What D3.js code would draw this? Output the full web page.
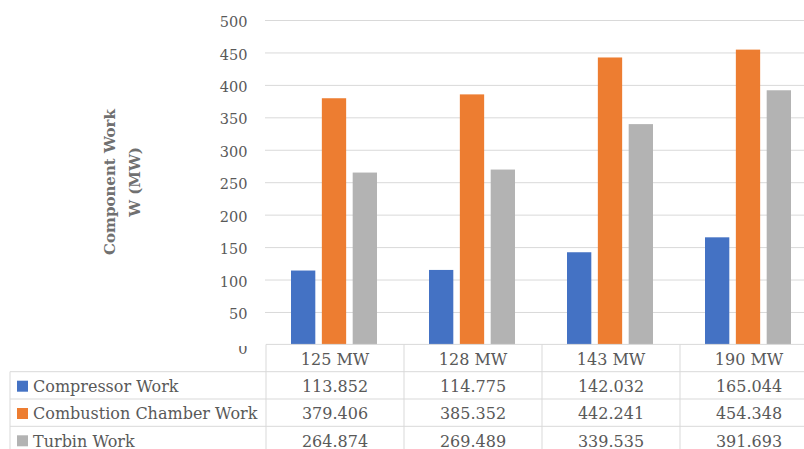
<!DOCTYPE html>
<html>
<head>
<meta charset="utf-8">
<script src="https://cdn.jsdelivr.net/npm/d3@7"></script>
<style>
  html, body { margin: 0; padding: 0; background: #ffffff; }
  svg { display: block; }
</style>
</head>
<body>
<svg id="chart" width="804" height="449"></svg>
<script>
// Plant capacities (categories) and component work per series, in MW
const categories = ["125 MW", "128 MW", "143 MW", "190 MW"];
const seriesNames = ["Compressor Work", "Combustion Chamber Work", "Turbin Work"];
const compressorWork = [113.852, 114.775, 142.032, 165.044];
const combustionChamberWork = [379.406, 385.352, 442.241, 454.348];
const turbinWork = [264.874, 269.489, 339.535, 391.693];
const yTickValues = [0, 50, 100, 150, 200, 250, 300, 350, 400, 450, 500];
const valueLabels = [
  ["113.852", "114.775", "142.032", "165.044"],
  ["379.406", "385.352", "442.241", "454.348"],
  ["264.874", "269.489", "339.535", "391.693"]
];

const seriesValues = [compressorWork, combustionChamberWork, turbinWork];
const colors = ["#4472c4", "#ed7d31", "#b3b3b3"];

const W = 804, H = 449;
const textColor = "#595959";
const lineColor = "#d9d9d9";
const fontFamily = "'DejaVu Serif', serif";

const svg = d3.select("#chart");
svg.append("rect").attr("width", W).attr("height", H).attr("fill", "#ffffff");

// Scales
const y = d3.scaleLinear().domain([0, 500]).range([344.4, 20]);
const x = d3.scaleBand().domain(categories).range([266, 818]);
const xs = d3.scaleBand().domain(seriesNames).range([-44, 42]).paddingInner(0.212);

// Value axis with gridlines
const yAxis = d3.axisLeft(y)
  .tickValues(yTickValues)
  .tickSize(-(W - 265))
  .tickPadding(17.5)
  .tickFormat(d3.format("d"));

const defs = svg.append("defs");
defs.append("clipPath").attr("id", "zeroClip")
  .append("rect").attr("x", 0).attr("y", 345.5).attr("width", 300).attr("height", 30);

const gAxis = svg.append("g").attr("transform", "translate(265,0)").call(yAxis);
gAxis.select(".domain").remove();
gAxis.selectAll(".tick line")
  .attr("stroke", lineColor)
  .attr("stroke-width", 1)
  .attr("opacity", d => d === 0 ? 0 : 1);
gAxis.selectAll(".tick text")
  .attr("dy", null)
  .attr("y", d => d === 0 ? 9 : 6.6)
  .attr("fill", textColor)
  .style("font-family", fontFamily)
  .style("font-size", "14.5px");
gAxis.selectAll(".tick").filter(d => d === 0)
  .attr("clip-path", null)
  .each(function () {
    // clip the zero label where the data table begins
    const t = d3.select(this);
    const ty = y(0);
    t.select("text").attr("clip-path", "url(#zeroClipLocal)");
    t.append("clipPath").attr("id", "zeroClipLocal")
      .append("rect").attr("x", -60).attr("y", 345.5 - ty).attr("width", 60).attr("height", 30);
  });

// Bars
const gBars = svg.append("g");
categories.forEach((cat, ci) => {
  seriesNames.forEach((name, si) => {
    const v = seriesValues[si][ci];
    gBars.append("rect")
      .attr("x", x(cat) + x.bandwidth() / 2 + xs(name))
      .attr("y", y(v))
      .attr("width", xs.bandwidth())
      .attr("height", y(0) - y(v))
      .attr("fill", colors[si]);
  });
});

// Axis title
const title = svg.append("g").attr("fill", "#707070")
  .style("font-family", fontFamily).style("font-size", "15px").style("font-weight", "bold");
title.append("text").attr("transform", "translate(115,182) rotate(-90)")
  .attr("text-anchor", "middle").text("Component Work");
title.append("text").attr("transform", "translate(140,182) rotate(-90)")
  .attr("text-anchor", "middle").text("W (MW)");

// Data table
const headerTop = y(0);
const rowH = 27.3;
const rowTops = [0, 1, 2, 3].map(i => headerTop + i * rowH);
const gTable = svg.append("g");

// horizontal rules
gTable.append("line").attr("x1", 266).attr("x2", W).attr("y1", rowTops[0]).attr("y2", rowTops[0])
  .attr("stroke", lineColor);
rowTops.slice(1).forEach(t => {
  gTable.append("line").attr("x1", 10).attr("x2", W).attr("y1", t).attr("y2", t)
    .attr("stroke", lineColor);
});
// vertical rules
gTable.append("line").attr("x1", 10).attr("x2", 10).attr("y1", rowTops[1]).attr("y2", H)
  .attr("stroke", lineColor);
categories.forEach(cat => {
  const cx = x(cat);
  gTable.append("line").attr("x1", cx).attr("x2", cx).attr("y1", rowTops[0]).attr("y2", H)
    .attr("stroke", lineColor);
});

const tableText = gTable.append("g").attr("fill", textColor)
  .style("font-family", fontFamily).style("font-size", "16px");

// header row: categories
categories.forEach(cat => {
  tableText.append("text")
    .attr("x", x(cat) + x.bandwidth() / 2)
    .attr("y", rowTops[0] + 20.4)
    .attr("text-anchor", "middle")
    .text(cat);
});

// series rows with legend keys
seriesNames.forEach((name, si) => {
  const top = rowTops[si + 1];
  gTable.append("rect").attr("x", 17).attr("y", top + 9).attr("width", 11).attr("height", 11)
    .attr("fill", colors[si]);
  tableText.append("text").attr("x", 33).attr("y", top + 20.4).text(name);
  categories.forEach((cat, ci) => {
    tableText.append("text")
      .attr("x", x(cat) + x.bandwidth() / 2)
      .attr("y", top + 20.4)
      .attr("text-anchor", "middle")
      .text(valueLabels[si][ci]);
  });
});
</script>
</body>
</html>
